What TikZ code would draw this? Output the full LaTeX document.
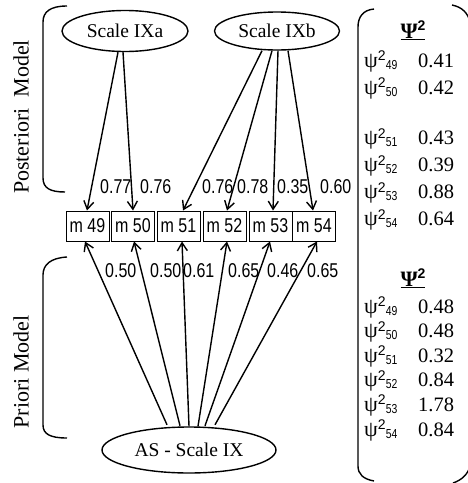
\documentclass[tikz,border=0pt]{standalone}
\usepackage{fontspec}
\setmainfont{Liberation Serif}
\newfontfamily\narrowsans[FakeStretch=0.8]{Liberation Sans}
\newfontfamily\plainsans{Liberation Sans}
\usetikzlibrary{shapes.geometric,arrows.meta}
\newcommand\psilab[1]{{\fontsize{22}{22}\selectfont ψ}\raisebox{6.5pt}{\plainsans\fontsize{14}{14}\selectfont 2}\raisebox{-2pt}{\narrowsans\fontsize{13}{13}\selectfont #1}}
\newcommand\psihead{\underline{{\fontsize{22}{22}\selectfont\bfseries Ψ}\raisebox{7.5pt}{\plainsans\bfseries\fontsize{14}{14}\selectfont 2}}}
\begin{document}
\begin{tikzpicture}[x=1pt,y=-1pt,
  latent/.style={draw,ellipse,line width=1.4pt,inner sep=0pt,font=\fontsize{19.5}{20}\selectfont},
  mbox/.style={draw,rectangle,line width=1pt,minimum width=43pt,minimum height=30pt,inner sep=0pt,font=\narrowsans\fontsize{20}{20}\selectfont},
  arr/.style={line width=1.4pt,-{Straight Barb[length=8pt,width=10pt,line width=1.4pt]}},
  wlab/.style={anchor=base west,inner sep=0pt,font=\narrowsans\fontsize{20}{20}\selectfont},
  brk/.style={line width=1.4pt},
  sidelab/.style={rotate=90,inner sep=0pt,font=\fontsize{22}{22}\selectfont},
  psil/.style={anchor=base west,inner sep=0pt},
  psiv/.style={anchor=base west,inner sep=0pt,font=\fontsize{20.5}{20.5}\selectfont}]
\useasboundingbox (0,0) rectangle (467,483);

% latent ellipses
\node[latent,minimum width=126pt,minimum height=41pt] (IXa) at (125,31) {Scale IXa};
\node[latent,minimum width=125pt,minimum height=38pt] (IXb) at (277,31) {Scale IXb};
\node[latent,minimum width=174pt,minimum height=46pt] (AS) at (189,450) {AS - Scale IX};

% indicators
\node[mbox] (m49) at (87.5,226) {m 49};
\node[mbox] (m50) at (133,226) {m 50};
\node[mbox] (m51) at (178.5,226) {m 51};
\node[mbox] (m52) at (224.5,226) {m 52};
\node[mbox] (m53) at (270.5,226) {m 53};
\node[mbox] (m54) at (314,226) {m 54};

% posteriori arrows
\draw[arr] ([xshift=-7pt]IXa.south) -- ([xshift=-0.5pt]m49.north);
\draw[arr] ([xshift=-2pt]IXa.south) -- (m50.north);
\draw[arr] ([xshift=-15pt]IXb.south) -- ([xshift=4.5pt]m51.north);
\draw[arr] ([xshift=-5pt]IXb.south) -- ([xshift=2.5pt]m52.north);
\draw[arr] ([xshift=1pt]IXb.south) -- ([xshift=2.5pt]m53.north);
\draw[arr] ([xshift=11pt]IXb.south) -- ([xshift=-1pt]m54.north);

% priori arrows
\draw[arr] ([xshift=-22pt,yshift=1.5pt]AS.north) -- ([xshift=-2.5pt]m49.south);
\draw[arr] ([xshift=-9pt,yshift=0.5pt]AS.north) -- ([xshift=1pt]m50.south);
\draw[arr] ([xshift=0pt]AS.north) -- ([xshift=3.5pt]m51.south);
\draw[arr] ([xshift=9pt]AS.north) -- ([xshift=2.5pt]m52.south);
\draw[arr] ([xshift=16pt,yshift=0.5pt]AS.north) -- ([xshift=-0.5pt]m53.south);
\draw[arr] ([xshift=26pt,yshift=1.5pt]AS.north) -- ([xshift=3pt]m54.south);

% loadings
\node[wlab] (l1) at (100,193) {0.77};
\node[wlab] (l2) at (140,193) {0.76};
\node[wlab] (l3) at (202,193) {0.76};
\node[wlab] (l4) at (237,193) {0.78};
\node[wlab] (l5) at (277,193) {0.35};
\node[wlab] (l6) at (320,193) {0.60};
\node[wlab] (p1) at (105,277) {0.50};
\node[wlab] (p2) at (150,277) {0.50};
\node[wlab] (p3) at (183,277) {0.61};
\node[wlab] (p4) at (228,277) {0.65};
\node[wlab] (p5) at (267,277) {0.46};
\node[wlab] (p6) at (307,277) {0.65};

% left brackets
\draw[brk] (67,6) .. controls (50,6) and (43,12) .. (43,22) -- (43,178) .. controls (43,188) and (50,192) .. (65,192);
\draw[brk] (67,257) .. controls (50,258) and (43,265) .. (43,275) -- (43,425) .. controls (43,434) and (50,438) .. (67,438);
\node[sidelab] (post) at (21,117) {Posteriori\ \ Model};
\node[sidelab] (prio) at (21,372) {Priori Model};

% right bracket
\draw[brk] (374,9) .. controls (363,10) and (358,17) .. (358,27) -- (358,466) .. controls (358,474) and (363,479) .. (374,481);
\draw[brk] (452,5) .. controls (462,7) and (468,13) .. (470,22) -- (470,466) .. controls (468,474) and (462,480) .. (453,483);

% psi tables
\node[anchor=base,inner sep=0pt] (h1) at (413,38) {\psihead};
\node[psil] (a1) at (364,67) {\psilab{49}};
\node[psil] (a2) at (364,94) {\psilab{50}};
\node[psil] (a3) at (364,144.5) {\psilab{51}};
\node[psil] (a4) at (364,171.5) {\psilab{52}};
\node[psil] (a5) at (364,198.5) {\psilab{53}};
\node[psil] (a6) at (364,225.5) {\psilab{54}};
\node[psiv] (v1) at (418,67) {0.41};
\node[psiv] (v2) at (418,94) {0.42};
\node[psiv] (v3) at (418,144.5) {0.43};
\node[psiv] (v4) at (418,171.5) {0.39};
\node[psiv] (v5) at (418,198.5) {0.88};
\node[psiv] (v6) at (418,225.5) {0.64};

\node[anchor=base,inner sep=0pt] (h2) at (413,286) {\psihead};
\node[psil] (b1) at (364,313) {\psilab{49}};
\node[psil] (b2) at (364,337.6) {\psilab{50}};
\node[psil] (b3) at (364,362.2) {\psilab{51}};
\node[psil] (b4) at (364,386.8) {\psilab{52}};
\node[psil] (b5) at (364,411.4) {\psilab{53}};
\node[psil] (b6) at (364,436) {\psilab{54}};
\node[psiv] (w1) at (418,313) {0.48};
\node[psiv] (w2) at (418,337.6) {0.48};
\node[psiv] (w3) at (418,362.2) {0.32};
\node[psiv] (w4) at (418,386.8) {0.84};
\node[psiv] (w5) at (418,411.4) {1.78};
\node[psiv] (w6) at (418,436) {0.84};
\end{tikzpicture}
\end{document}
